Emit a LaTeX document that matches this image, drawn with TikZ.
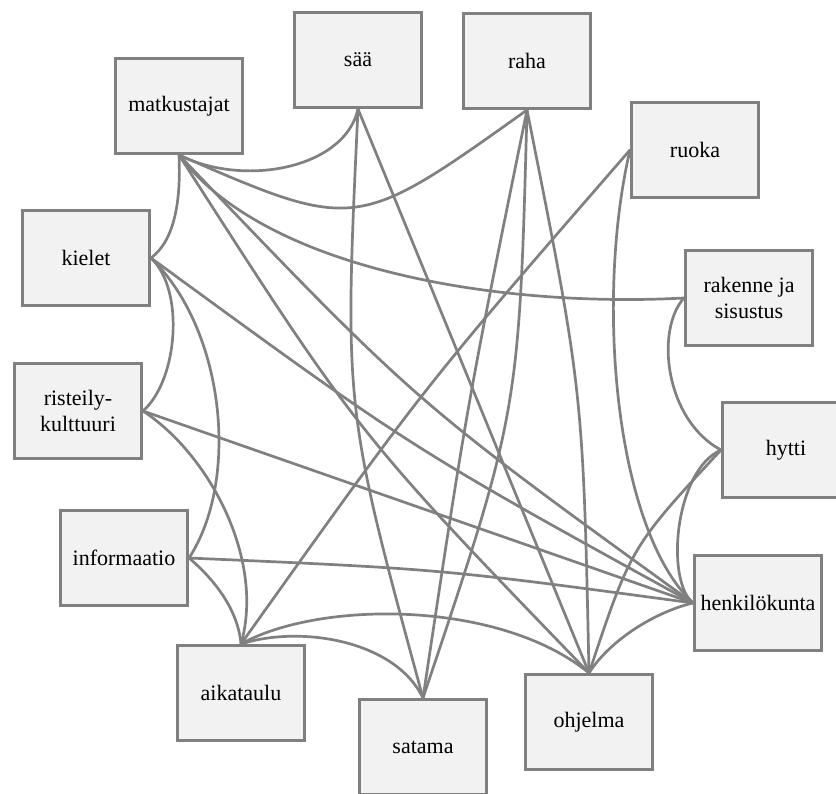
\documentclass[tikz,border=0pt]{standalone}
\usepackage{fontspec}
\setmainfont{Liberation Serif}
\pgfdeclarelayer{edges}
\pgfsetlayers{edges,main}
\definecolor{boxfill}{RGB}{242,242,242}
\definecolor{boxline}{RGB}{128,128,128}
\definecolor{linkline}{RGB}{128,128,128}
\begin{document}
\begin{tikzpicture}[x=1pt,y=-1pt,
  topic/.style={draw=boxline, fill=boxfill, line width=3pt,
    minimum width=127pt, minimum height=95pt, inner sep=2pt,
    align=center, font=\fontsize{22}{26}\selectfont, text=black},
  link/.style={draw=linkline, line width=2.7pt, line cap=round}]
\useasboundingbox (0,0) rectangle (836,794);
\clip (0,0) rectangle (836,794);

% topics, clockwise from the upper left
\node[topic] (matk)    at (179,106) {matkustajat};
\node[topic] (saa)     at (358,60)  {sää};
\node[topic] (raha)    at (527,61)  {raha};
\node[topic] (ruoka)   at (695,150) {ruoka};
\node[topic] (rakenne) at (749,298) {rakenne ja\\sisustus};
\node[topic] (hytti)   at (786,450) {hytti};
\node[topic] (henk)    at (758,603) {henkilökunta};
\node[topic] (ohjelma) at (589,722) {ohjelma};
\node[topic] (satama)  at (423,747) {satama};
\node[topic] (aika)    at (241,693) {aikataulu};
\node[topic] (info)    at (124,558) {informaatio};
\node[topic] (risteily) at (78,411) {risteily-\\kulttuuri};
\node[topic] (kielet)  at (86,258)  {kielet};

% links between topics, drawn beneath the boxes
\begin{pgfonlayer}{edges}
\draw[link] (matk.south) .. controls (245,188) and (345,168) .. (saa.south);
\draw[link] (matk.south) .. controls (356,232) .. (raha.south);
\draw[link] (matk.south) .. controls (181,200) and (175,240) .. (kielet.east);
\draw[link] (matk.south) .. controls (265,270) and (500,308) .. (rakenne.west);
\draw[link] (matk.south) .. controls (415,402) .. (henk.west);
\draw[link] (matk.south) .. controls (358,434) .. (ohjelma.north);
\draw[link] (saa.south) .. controls (344,408) .. (satama.north);
\draw[link] (saa.south) -- (ohjelma.north);
\draw[link] (raha.south) .. controls (467,405) .. (satama.north);
\draw[link] (raha.south) .. controls (519,412) .. (satama.north);
\draw[link] (raha.south) .. controls (583,391) .. (ohjelma.north);
\draw[link] (ruoka.west) .. controls (424,387) .. (aika.north);
\draw[link] (ruoka.west) .. controls (595,300) and (615,530) .. (henk.west);
\draw[link] (rakenne.west) .. controls (655,330) and (665,420) .. (hytti.west);
\draw[link] (hytti.west) .. controls (675,470) and (665,580) .. (henk.west);
\draw[link] (hytti.west) .. controls (631,547) .. (ohjelma.north);
\draw[link] (kielet.east) .. controls (185,290) and (178,380) .. (risteily.east);
\draw[link] (kielet.east) .. controls (225,330) and (240,480) .. (info.east);
\draw[link] (kielet.east) .. controls (411,448) .. (henk.west);
\draw[link] (risteily.east) -- (henk.west);
\draw[link] (risteily.east) .. controls (210,455) and (265,560) .. (aika.north);
\draw[link] (info.east) .. controls (215,580) and (238,610) .. (aika.north);
\draw[link] (info.east) .. controls (441,569) .. (henk.west);
\draw[link] (aika.north) .. controls (300,625) and (395,640) .. (satama.north);
\draw[link] (aika.north) .. controls (320,600) and (500,600) .. (ohjelma.north);
\draw[link] (henk.west) .. controls (655,612) and (610,640) .. (ohjelma.north);
\end{pgfonlayer}
\end{tikzpicture}
\end{document}
